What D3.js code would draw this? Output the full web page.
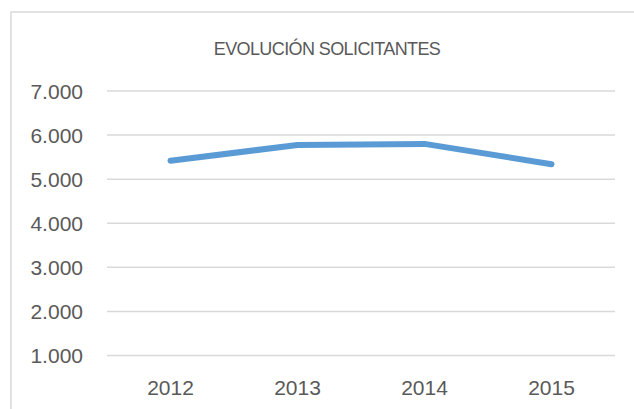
<html>
<head>
<style>
    body { margin: 0; background: #fff; }
    .tick-label {
        fill: #595959;
        font-family: "Liberation Sans", Arial, sans-serif;
        font-size: 21px;
    }
    .title {
        fill: #595959;
        font-family: "Liberation Sans", Arial, sans-serif;
        font-size: 18px;
        letter-spacing: -0.6px;
    }
</style>
</head>
<body>
<svg id="container" width="634" height="409"></svg>

<script src="https://d3js.org/d3.v7.min.js"></script>
<script>
    // data
    let years = ["2012", "2013", "2014", "2015"]
    let solicitantes = [5420, 5775, 5800, 5340]
    let yTicks = [1000, 2000, 3000, 4000, 5000, 6000, 7000]

    let svg = d3.select("#container")

    // outer chart border (runs off the right and bottom edges)
    svg.append("rect")
        .attr("x", 11)
        .attr("y", 12)
        .attr("width", 700)
        .attr("height", 500)
        .attr("fill", "none")
        .attr("stroke", "#d9d9d9")
        .attr("stroke-width", 1.5)

    // plot area
    let plotLeft = 107, plotRight = 615, plotTop = 91, plotBottom = 355.5

    let x = d3.scaleBand()
        .domain(years)
        .range([plotLeft, plotRight])

    let y = d3.scaleLinear()
        .domain([1000, 7000])
        .range([plotBottom, plotTop])

    let fmt = d => d3.format(",")(d).replace(/,/g, ".")

    // gridlines
    svg.append("g")
        .selectAll("line")
        .data(yTicks)
        .enter().append("line")
        .attr("x1", plotLeft)
        .attr("x2", plotRight)
        .attr("y1", d => y(d))
        .attr("y2", d => y(d))
        .attr("stroke", "#d9d9d9")
        .attr("stroke-width", 1.5)

    // y labels
    svg.append("g")
        .selectAll("text")
        .data(yTicks)
        .enter().append("text")
        .attr("class", "tick-label")
        .attr("x", 83)
        .attr("y", d => y(d))
        .attr("dy", "0.36em")
        .attr("text-anchor", "end")
        .text(fmt)

    // x labels
    svg.append("g")
        .selectAll("text")
        .data(years)
        .enter().append("text")
        .attr("class", "tick-label")
        .attr("x", d => x(d) + x.bandwidth() / 2)
        .attr("y", 395)
        .attr("text-anchor", "middle")
        .text(d => d)

    // line
    let line = d3.line()
        .x((d, i) => x(years[i]) + x.bandwidth() / 2)
        .y(d => y(d))

    svg.append("path")
        .datum(solicitantes)
        .attr("d", line)
        .attr("fill", "none")
        .attr("stroke", "#5b9bd5")
        .attr("stroke-width", 6)
        .attr("stroke-linecap", "round")
        .attr("stroke-linejoin", "round")

    // title
    svg.append("text")
        .attr("class", "title")
        .attr("x", 327)
        .attr("y", 55)
        .attr("text-anchor", "middle")
        .text("EVOLUCIÓN SOLICITANTES")
</script>
</body>
</html>
